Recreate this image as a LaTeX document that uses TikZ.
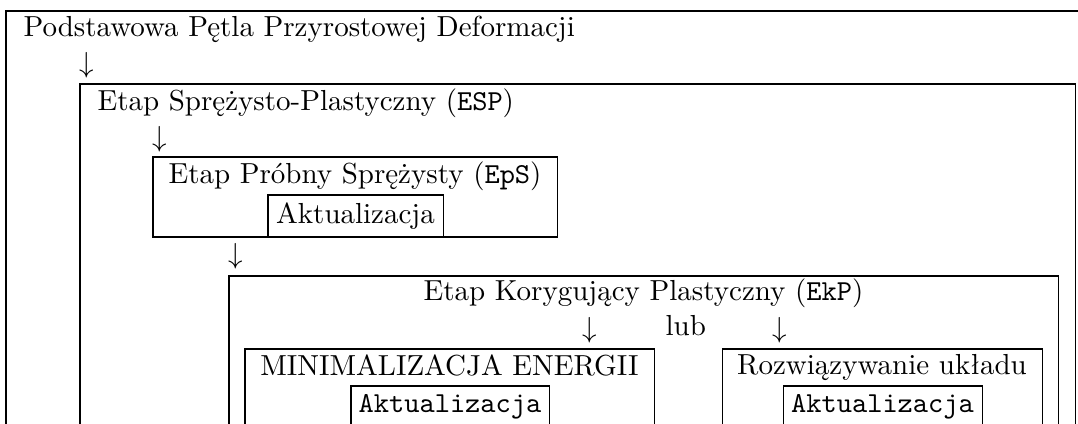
\documentclass[tikz,border=0pt]{standalone}
\usepackage{fontspec}
\begin{document}
\begin{tikzpicture}[x=0.345pt,y=-0.345pt,
  frame/.style={draw=black,line width=0.35pt},
  txt/.style={anchor=base,inner sep=0pt,font=\fontsize{10}{12}\selectfont},
  arr/.style={anchor=center,inner sep=0pt,font=\fontsize{10}{12}\selectfont}]
\useasboundingbox (0,0) rectangle (1078,423);
\clip (0,0) rectangle (1078,423);
% boxes
\draw[frame] (6,11) rectangle (1100,450);
\draw[frame] (80,84) rectangle (1075,450);
\draw[frame] (153,157) rectangle (557,237);
\draw[frame] (268,195) rectangle (443,237);
\draw[frame] (229,276) rectangle (1058,450);
\draw[frame] (245,349) rectangle (654,450);
\draw[frame] (351,386) rectangle (549,450);
\draw[frame] (722,349) rectangle (1042,450);
\draw[frame] (783,386) rectangle (982,450);
% texts
\node[txt,anchor=base west] (title) at (23,36) {Podstawowa Pętla Przyrostowej Deformacji};
\node[arr] (a1) at (87,65.5) {$\downarrow$};
\node[txt,anchor=base west] (esp) at (97,110) {Etap Sprężysto-Plastyczny (\texttt{ESP})};
\node[arr] (a2) at (160,139.5) {$\downarrow$};
\node[txt] (eps) at (355,183) {Etap Próbny Sprężysty (\texttt{EpS})};
\node[txt] (akt1) at (355.5,223) {Aktualizacja};
\node[arr] (a3) at (236,256.5) {$\downarrow$};
\node[txt] (ekp) at (643.5,300) {Etap Korygujący Plastyczny (\texttt{EkP})};
\node[arr] (a4) at (590,330) {$\downarrow$};
\node[txt,anchor=base west] (lub) at (665,335) {lub};
\node[arr] (a5) at (780,330) {$\downarrow$};
\node[txt] (min) at (449.5,375) {MINIMALIZACJA ENERGII};
\node[txt] (akt2) at (450,412) {\texttt{Aktualizacja}};
\node[txt] (rozw) at (882,374) {Rozwiązywanie układu};
\node[txt] (akt3) at (882.5,412) {\texttt{Aktualizacja}};
\end{tikzpicture}
\end{document}
